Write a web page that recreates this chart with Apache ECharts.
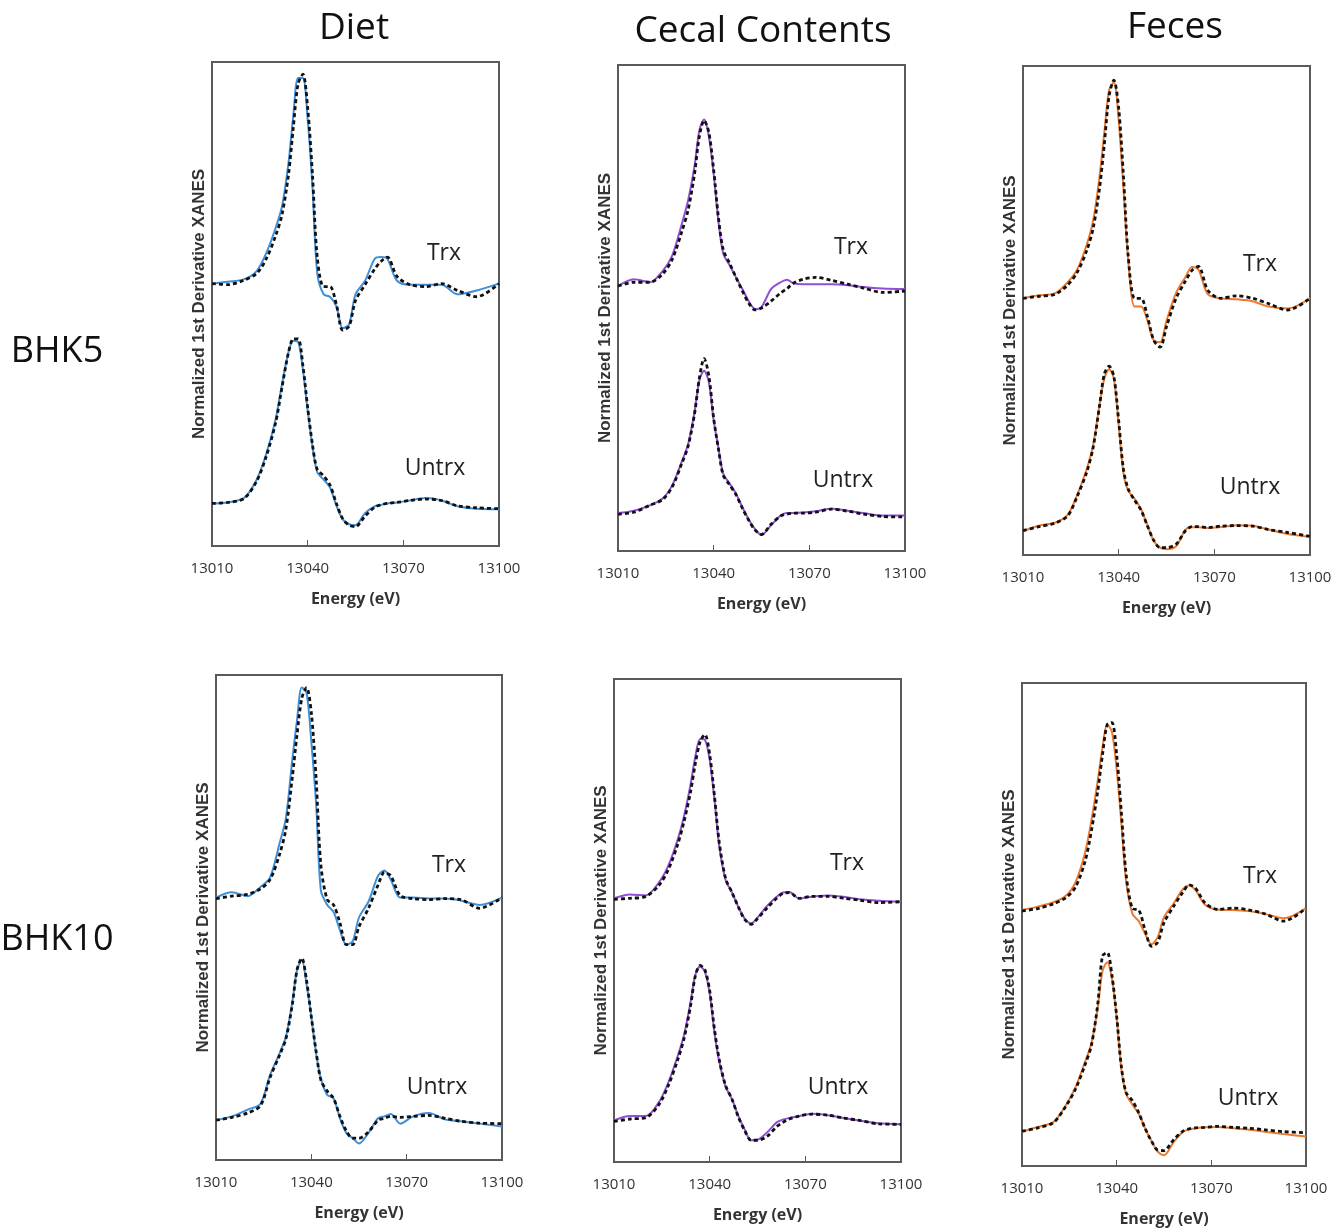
<!DOCTYPE html>
<html>
<head>
<meta charset="utf-8">
<script src="https://cdn.jsdelivr.net/npm/echarts@6/dist/echarts.min.js"></script>
<style>
html,body{margin:0;padding:0;background:#fff;}
#chart{width:1343px;height:1228px;}
</style>
</head>
<body>
<div id="chart"></div>
<script>
// ---- Data (y in arbitrary normalized units, traces offset) ----
const energy = [13010, 13015, 13020, 13024, 13027, 13030, 13032, 13034, 13035.5, 13037, 13038.5, 13040, 13041.5, 13043, 13045, 13047, 13049, 13051, 13053, 13055, 13058, 13061, 13063, 13065, 13068, 13072, 13077, 13082, 13087, 13093, 13100];
const xTicks = [13010, 13040, 13070, 13100];
const columnTitles = ["Diet", "Cecal Contents", "Feces"];
const rowTitles = ["BHK5", "BHK10"];
const curveLabels = ["Trx", "Untrx"];

// Diet BHK5
const dietBHK5Trx = [54.2, 54.6, 55.1, 56.8, 60.5, 65.8, 70.3, 79.2, 89.0, 96.7, 96.7, 88.2, 74.3, 56.4, 52.0, 51.5, 49.5, 45.0, 45.8, 52.0, 54.8, 59.3, 59.7, 59.3, 54.8, 54.0, 54.0, 54.0, 52.0, 52.8, 54.2];
const dietBHK5TrxFit = [54.2, 54.0, 54.9, 56.3, 59.3, 64.2, 68.6, 76.8, 86.5, 95.5, 97.5, 90.6, 76.8, 59.7, 53.6, 53.6, 49.9, 44.6, 45.4, 50.7, 54.0, 57.2, 58.8, 59.7, 55.7, 54.0, 53.6, 54.2, 52.8, 51.5, 54.2];
const dietBHK5Untrx = [8.8, 9.0, 9.9, 13.7, 19.0, 26.3, 33.6, 40.1, 42.4, 42.2, 36.5, 28.0, 20.6, 15.3, 13.7, 12.1, 8.4, 5.5, 4.5, 4.3, 6.8, 8.2, 8.5, 8.8, 9.0, 9.4, 9.9, 9.4, 8.2, 7.7, 7.6];
const dietBHK5UntrxFit = [8.8, 9.0, 9.8, 13.4, 18.5, 25.6, 33.0, 40.0, 42.8, 42.8, 37.3, 28.6, 21.0, 15.8, 14.5, 12.6, 8.8, 5.6, 4.3, 4.0, 6.2, 8.0, 8.5, 8.8, 9.0, 9.4, 9.7, 9.4, 8.3, 7.9, 7.7];

// Cecal BHK5
const cecalBHK5Trx = [54.5, 55.9, 55.3, 57.6, 60.8, 67.3, 72.2, 79.2, 86.5, 88.8, 85.3, 77.6, 67.8, 61.2, 58.8, 56.3, 53.9, 51.4, 49.8, 50.2, 53.9, 55.3, 55.8, 55.1, 54.9, 54.9, 54.9, 54.7, 54.3, 54.0, 53.9];
const cecalBHK5TrxFit = [54.5, 55.3, 55.3, 57.0, 60.0, 65.7, 70.2, 77.6, 85.3, 88.6, 86.1, 78.4, 68.6, 62.0, 59.2, 56.3, 53.5, 51.0, 49.6, 50.0, 51.4, 53.1, 54.0, 55.1, 55.9, 56.3, 55.7, 54.9, 54.1, 53.2, 53.5];
const cecalBHK5Untrx = [7.8, 8.3, 9.4, 10.8, 13.5, 18.4, 22.0, 28.6, 35.1, 37.1, 34.7, 26.9, 21.2, 15.9, 13.9, 11.8, 9.0, 6.5, 4.5, 3.3, 5.3, 7.3, 7.8, 7.8, 7.9, 8.2, 8.7, 8.3, 7.8, 7.3, 7.3];
const cecalBHK5UntrxFit = [7.6, 8.0, 9.4, 10.6, 13.2, 18.0, 21.6, 28.2, 35.5, 39.6, 36.0, 27.3, 21.0, 15.6, 13.6, 11.6, 8.8, 6.3, 4.3, 3.4, 5.5, 7.2, 7.6, 7.8, 7.8, 8.0, 8.6, 8.2, 7.6, 7.1, 7.0];

// Feces BHK5
const fecesBHK5Trx = [52.5, 53.1, 53.5, 55.8, 58.4, 63.5, 68.4, 77.4, 86.4, 95.1, 96.7, 88.9, 75.0, 60.3, 50.8, 50.8, 48.0, 43.9, 43.5, 47.9, 53.6, 56.9, 58.9, 58.4, 53.3, 52.5, 52.3, 51.9, 50.8, 50.4, 52.5];
const fecesBHK5TrxFit = [52.5, 52.9, 53.3, 55.2, 57.8, 62.3, 66.8, 75.0, 84.0, 93.9, 97.1, 91.4, 77.5, 61.1, 52.5, 52.5, 48.8, 43.9, 42.5, 46.7, 52.5, 56.1, 58.2, 59.0, 54.1, 52.5, 53.0, 52.5, 51.4, 50.1, 52.5];
const fecesBHK5Untrx = [4.9, 6.0, 6.6, 8.2, 12.3, 17.6, 22.5, 30.7, 36.1, 38.0, 36.1, 26.6, 16.8, 13.1, 11.5, 9.4, 6.1, 2.9, 1.5, 1.2, 1.8, 5.2, 5.7, 5.7, 5.5, 5.7, 6.1, 6.0, 5.2, 4.3, 3.7];
const fecesBHK5UntrxFit = [5.0, 5.8, 6.5, 8.0, 12.0, 17.0, 22.0, 30.5, 37.0, 38.6, 36.5, 27.5, 17.5, 13.5, 11.2, 9.2, 6.0, 3.0, 1.5, 1.5, 2.2, 5.0, 5.8, 5.8, 5.6, 5.9, 6.0, 5.9, 5.2, 4.6, 3.8];

// Diet BHK10
const dietBHK10Trx = [54.1, 55.2, 54.4, 56.3, 58.2, 65.3, 70.5, 82.5, 90.7, 97.4, 96.3, 86.2, 73.5, 55.6, 52.6, 51.1, 47.4, 44.4, 45.1, 50.0, 53.3, 58.6, 59.7, 57.8, 54.1, 54.1, 53.9, 53.9, 53.5, 52.6, 54.1];
const dietBHK10TrxFit = [53.9, 54.4, 54.8, 55.9, 57.8, 63.0, 68.3, 78.8, 87.7, 95.2, 97.4, 92.2, 78.7, 60.8, 53.7, 52.6, 48.9, 44.4, 44.4, 48.1, 51.9, 56.7, 59.3, 58.6, 54.5, 53.9, 53.7, 53.9, 53.7, 51.9, 54.1];
const dietBHK10Untrx = [8.2, 9.0, 10.4, 11.6, 17.5, 22.0, 25.4, 32.5, 39.2, 41.3, 36.2, 29.5, 22.0, 16.8, 13.4, 12.7, 8.6, 5.6, 4.5, 3.4, 5.6, 8.6, 9.0, 9.5, 7.5, 9.0, 9.7, 8.4, 8.0, 7.5, 6.9];
const dietBHK10UntrxFit = [8.2, 8.8, 9.7, 11.2, 17.0, 21.6, 25.0, 32.0, 39.2, 41.6, 37.0, 29.5, 22.4, 16.5, 14.2, 12.7, 9.0, 6.0, 4.5, 4.5, 5.8, 8.2, 8.6, 9.0, 8.8, 9.0, 9.2, 8.6, 8.0, 7.6, 7.5];

// Cecal BHK10
const cecalBHK10Trx = [54.6, 55.4, 55.2, 57.8, 61.3, 66.8, 71.7, 78.1, 83.9, 87.6, 87.4, 83.3, 75.1, 65.4, 58.4, 55.8, 52.8, 50.4, 49.4, 50.6, 53.0, 54.9, 55.8, 55.9, 54.6, 54.9, 55.2, 54.9, 54.4, 54.1, 53.9];
const cecalBHK10TrxFit = [54.4, 54.6, 55.0, 57.2, 60.5, 65.8, 70.6, 76.6, 82.5, 87.0, 88.5, 84.4, 75.8, 66.2, 58.7, 55.8, 52.8, 50.2, 49.2, 50.4, 52.6, 54.6, 55.6, 55.8, 54.6, 55.0, 55.0, 54.6, 54.2, 53.7, 53.9];
const cecalBHK10Untrx = [8.6, 9.5, 9.5, 12.3, 16.4, 22.0, 26.4, 33.1, 38.7, 40.5, 39.4, 34.9, 26.8, 20.8, 15.6, 13.0, 9.5, 6.7, 4.5, 4.6, 6.1, 8.2, 8.8, 9.1, 9.5, 10.0, 9.7, 9.1, 8.6, 8.0, 7.8];
const cecalBHK10UntrxFit = [8.4, 8.9, 9.2, 11.8, 15.8, 21.2, 25.7, 32.3, 38.5, 40.7, 39.8, 35.5, 27.5, 21.2, 15.8, 13.0, 9.3, 6.5, 4.5, 4.5, 5.3, 7.3, 8.2, 8.9, 9.5, 9.9, 9.7, 9.1, 8.6, 7.9, 7.8];

// Feces BHK10
const fecesBHK10Trx = [53.0, 53.7, 54.6, 56.0, 58.8, 64.9, 71.6, 79.8, 86.6, 91.4, 89.9, 82.1, 70.9, 59.0, 52.2, 50.7, 48.1, 45.9, 47.4, 51.5, 54.3, 57.3, 58.1, 57.1, 54.1, 53.1, 53.0, 52.8, 52.2, 51.3, 53.4];
const fecesBHK10TrxFit = [52.8, 53.3, 54.3, 55.6, 57.8, 63.1, 69.4, 77.6, 85.1, 91.4, 91.8, 85.1, 73.1, 60.4, 53.3, 53.0, 48.9, 45.5, 46.3, 50.4, 53.7, 56.7, 58.2, 57.5, 54.5, 53.1, 53.4, 53.0, 52.2, 50.7, 53.4];
const fecesBHK10Untrx = [7.1, 8.1, 9.1, 12.7, 16.4, 21.6, 25.4, 32.8, 40.3, 42.2, 38.8, 30.6, 20.1, 14.9, 12.7, 10.8, 7.8, 5.2, 3.0, 2.2, 4.9, 7.1, 7.6, 7.8, 8.0, 8.1, 7.8, 7.5, 7.1, 6.6, 6.1];
const fecesBHK10UntrxFit = [7.2, 7.9, 9.0, 12.5, 16.0, 21.0, 25.0, 33.5, 43.5, 44.2, 39.5, 31.0, 20.5, 15.2, 13.5, 11.0, 7.8, 5.2, 3.3, 3.2, 5.4, 7.2, 7.7, 7.9, 8.0, 8.2, 8.0, 7.8, 7.5, 7.1, 6.9];

// ---- Layout / styles ----
const FONT = "Open Sans";
const panels = [
  {box:[212, 62, 287, 484], color:"#3f8fd8", trx:dietBHK5Trx, trxFit:dietBHK5TrxFit, un:dietBHK5Untrx, unFit:dietBHK5UntrxFit, trxLab:[444,253], unLab:[435,468]},
  {box:[618, 65, 287, 486], color:"#8f4fd6", trx:cecalBHK5Trx, trxFit:cecalBHK5TrxFit, un:cecalBHK5Untrx, unFit:cecalBHK5UntrxFit, trxLab:[851,247], unLab:[843,480]},
  {box:[1023, 66, 287, 489], color:"#ee7a2f", trx:fecesBHK5Trx, trxFit:fecesBHK5TrxFit, un:fecesBHK5Untrx, unFit:fecesBHK5UntrxFit, trxLab:[1260,264], unLab:[1250,487]},
  {box:[216, 675, 286, 485], color:"#3f8fd8", trx:dietBHK10Trx, trxFit:dietBHK10TrxFit, un:dietBHK10Untrx, unFit:dietBHK10UntrxFit, trxLab:[449,865], unLab:[437,1087]},
  {box:[614, 679, 287, 483], color:"#8f4fd6", trx:cecalBHK10Trx, trxFit:cecalBHK10TrxFit, un:cecalBHK10Untrx, unFit:cecalBHK10UntrxFit, trxLab:[847,863], unLab:[838,1087]},
  {box:[1022, 683, 284, 486], color:"#ee7a2f", trx:fecesBHK10Trx, trxFit:fecesBHK10TrxFit, un:fecesBHK10Untrx, unFit:fecesBHK10UntrxFit, trxLab:[1260,876], unLab:[1248,1098]}
];
const colTitlePos = [[354,28],[763,31],[1175,27]];
const rowTitlePos = [[57,352],[57,940]];

const pairs = vals => energy.map((e,i)=>[e, vals[i]]);

const grids=[], xAxes=[], yAxes=[], series=[], graphics=[];
panels.forEach((p,i)=>{
  grids.push({left:p.box[0], top:p.box[1], width:p.box[2], height:p.box[3], show:true,
    borderColor:"#5a5a5a", borderWidth:2, backgroundColor:"transparent"});
  xAxes.push({gridIndex:i, type:"value", min:13010, max:13100, interval:30,
    axisLine:{show:true, lineStyle:{color:"#5a5a5a", width:2}},
    axisTick:{show:true, inside:true, length:6, lineStyle:{color:"#5a5a5a"}},
    axisLabel:{fontFamily:FONT, fontSize:15, color:"#333", margin:15,
      formatter: v => xTicks.includes(v) ? String(v) : ""},
    splitLine:{show:false},
    name:"Energy (eV)", nameLocation:"middle", nameGap:45,
    nameTextStyle:{fontFamily:FONT, fontSize:16, fontWeight:"bold", color:"#333"}});
  yAxes.push({gridIndex:i, type:"value", min:0, max:100,
    axisLine:{show:false}, axisTick:{show:false}, axisLabel:{show:false}, splitLine:{show:false},
    name:"Normalized 1st Derivative XANES", nameLocation:"middle", nameGap:4, nameRotate:90,
    nameTextStyle:{fontFamily:"Liberation Sans", fontSize:17, fontWeight:"bold", color:"#333"}});
  const solid = (name, vals)=>({name, type:"line", xAxisIndex:i, yAxisIndex:i, data:pairs(vals),
    showSymbol:false, smooth:0.3, lineStyle:{color:p.color, width:2}, z:2, silent:true});
  const dashed = (name, vals)=>({name, type:"line", xAxisIndex:i, yAxisIndex:i, data:pairs(vals),
    showSymbol:false, smooth:0.3, lineStyle:{color:"#111", width:2.8, type:[4,3]}, z:3, silent:true});
  series.push(solid("Trx data", p.trx), solid("Untrx data", p.un),
              dashed("Trx fit", p.trxFit), dashed("Untrx fit", p.unFit));
  graphics.push({type:"text", x:p.trxLab[0], y:p.trxLab[1],
    style:{text:curveLabels[0], font:"23px '"+FONT+"'", fill:"#222", textAlign:"center", textVerticalAlign:"middle"}});
  graphics.push({type:"text", x:p.unLab[0], y:p.unLab[1],
    style:{text:curveLabels[1], font:"23px '"+FONT+"'", fill:"#222", textAlign:"center", textVerticalAlign:"middle"}});
});
columnTitles.forEach((t,i)=>graphics.push({type:"text", x:colTitlePos[i][0], y:colTitlePos[i][1],
  style:{text:t, font:"37px '"+FONT+"'", fill:"#111", textAlign:"center", textVerticalAlign:"middle"}}));
rowTitles.forEach((t,i)=>graphics.push({type:"text", x:rowTitlePos[i][0], y:rowTitlePos[i][1],
  style:{text:t, font:"36px '"+FONT+"'", fill:"#111", textAlign:"center", textVerticalAlign:"middle"}}));

const chart = echarts.init(document.getElementById("chart"), null, {renderer:"canvas"});
chart.setOption({
  animation:false,
  backgroundColor:"#fff",
  grid:grids, xAxis:xAxes, yAxis:yAxes, series:series, graphic:graphics
});
</script>
</body>
</html>
